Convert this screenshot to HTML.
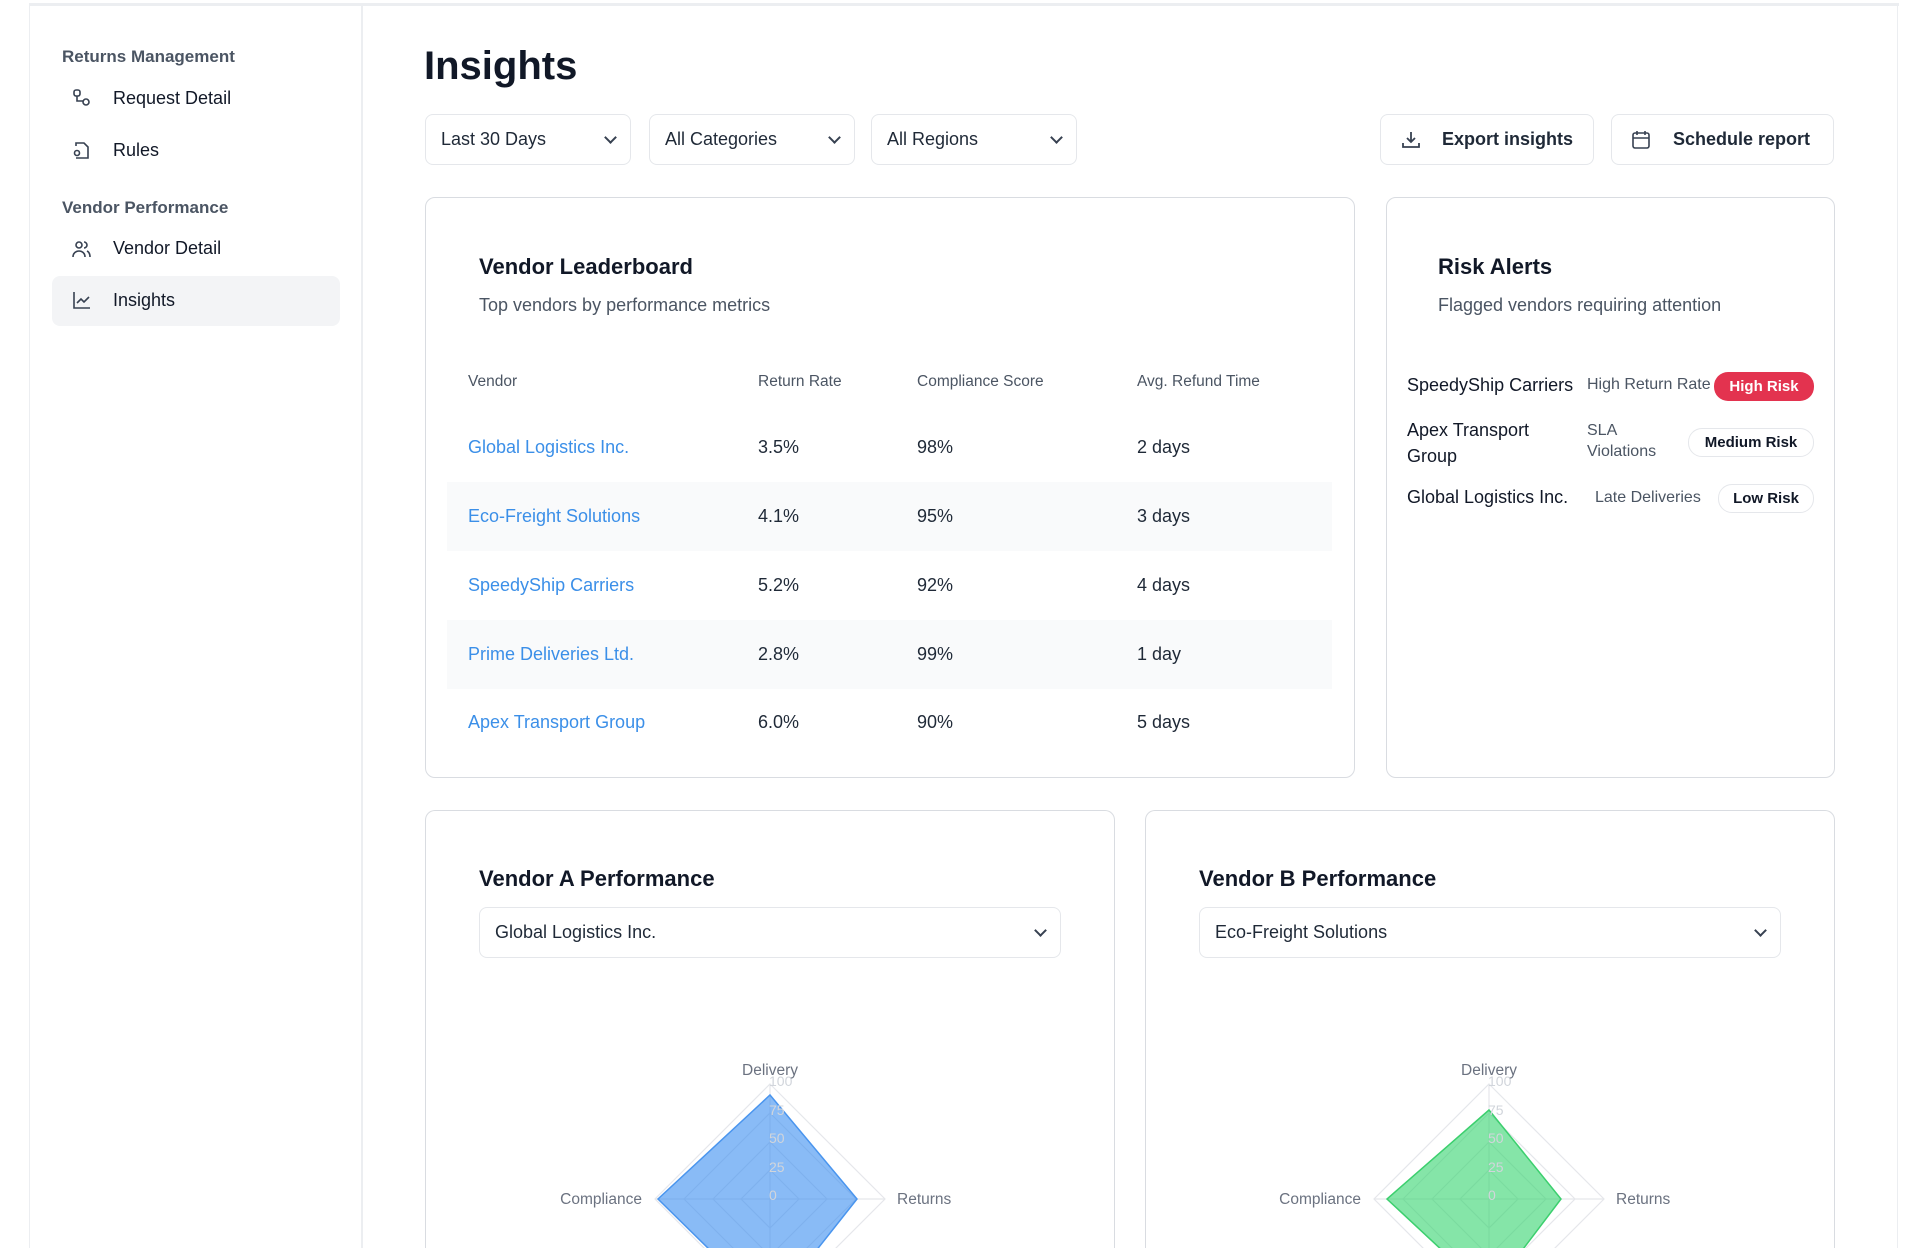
<!DOCTYPE html>
<html><head><meta charset="utf-8"><style>
*{box-sizing:border-box;margin:0;padding:0}
html,body{width:1920px;height:1248px;overflow:hidden;background:#fff}
body{font-family:"Liberation Sans",sans-serif;color:#111827}
#w{position:relative;width:1920px;height:1248px;overflow:hidden}
.a{position:absolute;white-space:nowrap}
.box{position:absolute;border:1px solid #e5e7eb;border-radius:8px;background:#fff}
.card{position:absolute;border:1.5px solid #d9dce1;border-radius:10px;background:#fff}
.sel{font-size:18px;color:#1f2937;display:flex;align-items:center;padding:0 15px;justify-content:space-between}
.chev{width:9px;height:9px;border-right:2px solid #374151;border-bottom:2px solid #374151;transform:rotate(45deg);margin-top:-5px}
.lk{color:#3b8fe8;font-size:18px}
.td{font-size:18px;color:#1f2937}
.th{font-size:15.5px;color:#4b5563}
.badge{position:absolute;border-radius:14px;font-size:15px;font-weight:bold;display:flex;align-items:center;justify-content:center}
</style></head><body><div id="w">
<div class="a" style="left:29px;top:3px;width:1870px;height:3px;background:#eceef1"></div>
<div class="a" style="left:29px;top:5px;width:1px;height:1243px;background:#eceef1"></div>
<div class="a" style="left:1897px;top:5px;width:1px;height:1243px;background:#eceef1"></div>
<div class="a" style="left:361px;top:5px;width:2px;height:1243px;background:#eceef1"></div>

<div class="a" style="left:62px;top:47px;font-size:17px;font-weight:bold;color:#4b5563">Returns Management</div>
<svg class="a" style="left:73px;top:89px" width="18" height="18" viewBox="0 0 18 18" fill="none" stroke="#374151" stroke-width="1.6"><rect x="1" y="1" width="6" height="6" rx="2"/><rect x="10" y="10" width="6" height="6" rx="3"/><path d="M4 7v5h6"/></svg>
<div class="a" style="left:113px;top:88px;font-size:18px">Request Detail</div>
<svg class="a" style="left:73px;top:140px" width="18" height="20" viewBox="0 0 18 20" fill="none" stroke="#374151" stroke-width="1.6"><path d="M3 6V3h8l4 4v11H3"/><circle cx="4" cy="13" r="2.5"/></svg>
<div class="a" style="left:113px;top:140px;font-size:18px">Rules</div>
<div class="a" style="left:62px;top:198px;font-size:17px;font-weight:bold;color:#4b5563">Vendor Performance</div>
<svg class="a" style="left:72px;top:239px" width="20" height="20" viewBox="0 0 20 20" fill="none" stroke="#374151" stroke-width="1.6"><circle cx="7" cy="6" r="3"/><path d="M1 18c0-4 3-6 6-6s6 2 6 6"/><path d="M12 3a3 3 0 0 1 0 6M15 12c2 1 3 3 3 6"/></svg>
<div class="a" style="left:113px;top:238px;font-size:18px">Vendor Detail</div>
<div class="a" style="left:52px;top:276px;width:288px;height:50px;background:#f3f4f6;border-radius:8px"></div>
<svg class="a" style="left:73px;top:291px" width="18" height="18" viewBox="0 0 18 18" fill="none" stroke="#374151" stroke-width="1.6"><path d="M1 1v16h16"/><path d="M4 12l4-4 3 3 5-5"/></svg>
<div class="a" style="left:113px;top:290px;font-size:18px">Insights</div>

<div class="a" style="left:424px;top:44px;font-size:40px;font-weight:bold">Insights</div>

<div class="box sel" style="left:425px;top:114px;width:206px;height:51px"><span>Last 30 Days</span><span class="chev"></span></div>
<div class="box sel" style="left:649px;top:114px;width:206px;height:51px"><span>All Categories</span><span class="chev"></span></div>
<div class="box sel" style="left:871px;top:114px;width:206px;height:51px"><span>All Regions</span><span class="chev"></span></div>
<div class="box" style="left:1380px;top:114px;width:214px;height:51px"></div>
<svg class="a" style="left:1401px;top:130px" width="20" height="20" viewBox="0 0 20 20" fill="none" stroke="#374151" stroke-width="1.8"><path d="M10 2v10M6 8l4 4 4-4M2 13v4h16v-4"/></svg>
<div class="a" style="left:1442px;top:129px;font-size:18px;font-weight:bold;color:#1f2937">Export insights</div>
<div class="box" style="left:1611px;top:114px;width:223px;height:51px"></div>
<svg class="a" style="left:1632px;top:130px" width="18" height="20" viewBox="0 0 18 20" fill="none" stroke="#374151" stroke-width="1.6"><rect x="1" y="3" width="16" height="15" rx="2"/><path d="M1 8h16M5 1v4M13 1v4"/></svg>
<div class="a" style="left:1673px;top:129px;font-size:18px;font-weight:bold;color:#1f2937">Schedule report</div>

<div class="card" style="left:425px;top:197px;width:930px;height:581px"></div>
<div class="a" style="left:479px;top:254px;font-size:22px;font-weight:bold">Vendor Leaderboard</div>
<div class="a" style="left:479px;top:295px;font-size:18px;color:#4b5563">Top vendors by performance metrics</div>
<div class="a th" style="left:468px;top:373px">Vendor</div>
<div class="a th" style="left:758px;top:373px">Return Rate</div>
<div class="a th" style="left:917px;top:373px">Compliance Score</div>
<div class="a th" style="left:1137px;top:373px">Avg. Refund Time</div>
<div class="a" style="left:447px;top:482px;width:885px;height:69px;background:#f9fafb"></div>
<div class="a" style="left:447px;top:620px;width:885px;height:69px;background:#f9fafb"></div>
<div class="a lk" style="left:468px;top:437px">Global Logistics Inc.</div><div class="a td" style="left:758px;top:437px">3.5%</div><div class="a td" style="left:917px;top:437px">98%</div><div class="a td" style="left:1137px;top:437px">2 days</div>
<div class="a lk" style="left:468px;top:506px">Eco-Freight Solutions</div><div class="a td" style="left:758px;top:506px">4.1%</div><div class="a td" style="left:917px;top:506px">95%</div><div class="a td" style="left:1137px;top:506px">3 days</div>
<div class="a lk" style="left:468px;top:575px">SpeedyShip Carriers</div><div class="a td" style="left:758px;top:575px">5.2%</div><div class="a td" style="left:917px;top:575px">92%</div><div class="a td" style="left:1137px;top:575px">4 days</div>
<div class="a lk" style="left:468px;top:644px">Prime Deliveries Ltd.</div><div class="a td" style="left:758px;top:644px">2.8%</div><div class="a td" style="left:917px;top:644px">99%</div><div class="a td" style="left:1137px;top:644px">1 day</div>
<div class="a lk" style="left:468px;top:712px">Apex Transport Group</div><div class="a td" style="left:758px;top:712px">6.0%</div><div class="a td" style="left:917px;top:712px">90%</div><div class="a td" style="left:1137px;top:712px">5 days</div>

<div class="card" style="left:1386px;top:197px;width:449px;height:581px"></div>
<div class="a" style="left:1438px;top:254px;font-size:22px;font-weight:bold">Risk Alerts</div>
<div class="a" style="left:1438px;top:295px;font-size:18px;color:#4b5563">Flagged vendors requiring attention</div>
<div class="a" style="left:1407px;top:375px;font-size:18px;color:#111827">SpeedyShip Carriers</div>
<div class="a" style="left:1587px;top:376px;font-size:16px;color:#4b5563">High Return Rate</div>
<div class="badge" style="left:1714px;top:372px;width:100px;height:29px;background:#e3334f;color:#fff">High Risk</div>
<div class="a" style="left:1407px;top:417px;font-size:18px;line-height:26px">Apex Transport<br>Group</div>
<div class="a" style="left:1587px;top:420px;font-size:16px;line-height:21px;color:#4b5563">SLA<br>Violations</div>
<div class="badge" style="left:1688px;top:428px;width:126px;height:29px;border:1px solid #e5e7eb;color:#111827">Medium Risk</div>
<div class="a" style="left:1407px;top:487px;font-size:18px">Global Logistics Inc.</div>
<div class="a" style="left:1595px;top:489px;font-size:16px;color:#4b5563">Late Deliveries</div>
<div class="badge" style="left:1718px;top:484px;width:96px;height:29px;border:1px solid #e5e7eb;color:#111827">Low Risk</div>

<div class="card" style="left:425px;top:810px;width:690px;height:438px;border-bottom:none;border-radius:10px 10px 0 0"></div>
<div class="a" style="left:479px;top:866px;font-size:22px;font-weight:bold">Vendor A Performance</div>
<div class="box sel" style="left:479px;top:907px;width:582px;height:51px"><span>Global Logistics Inc.</span><span class="chev"></span></div>
<div class="card" style="left:1145px;top:810px;width:690px;height:438px;border-bottom:none;border-radius:10px 10px 0 0"></div>
<div class="a" style="left:1199px;top:866px;font-size:22px;font-weight:bold">Vendor B Performance</div>
<div class="box sel" style="left:1199px;top:907px;width:582px;height:51px"><span>Eco-Freight Solutions</span><span class="chev"></span></div>

<svg class="a" style="left:0;top:0;overflow:hidden" width="1920" height="1248" viewBox="0 0 1920 1248">
<g transform="translate(770,1199)" font-family="Liberation Sans" >
 <g fill="none" stroke="#e5e7eb" stroke-width="1.2">
  <path d="M0-115L115 0 0 115-115 0Z"/><path d="M0-86L86 0 0 86-86 0Z"/><path d="M0-57L57 0 0 57-57 0Z"/><path d="M0-29L29 0 0 29-29 0Z"/>
  <path d="M0-115V115M-115 0H115"/>
 </g>
 <path d="M0-104L87 0 0 110-112 0Z" fill="rgba(59,142,240,0.6)" stroke="#4a95ee" stroke-width="1.5"/>
 <g fill="#d1d5db" font-size="14"><text x="-1" y="-113">100</text><text x="-1" y="-84">75</text><text x="-1" y="-56">50</text><text x="-1" y="-27">25</text><text x="-1" y="1">0</text></g>
 <g fill="#6b7280" font-size="15.5"><text x="0" y="-124" text-anchor="middle">Delivery</text><text x="-128" y="5" text-anchor="end">Compliance</text><text x="127" y="5">Returns</text></g>
</g>
<g transform="translate(1489,1199)" font-family="Liberation Sans">
 <g fill="none" stroke="#e5e7eb" stroke-width="1.2">
  <path d="M0-115L115 0 0 115-115 0Z"/><path d="M0-86L86 0 0 86-86 0Z"/><path d="M0-57L57 0 0 57-57 0Z"/><path d="M0-29L29 0 0 29-29 0Z"/>
  <path d="M0-115V115M-115 0H115"/>
 </g>
 <path d="M0-89L72 0 0 95-102 0Z" fill="rgba(52,211,110,0.6)" stroke="#3ccf6e" stroke-width="1.5"/>
 <g fill="#d1d5db" font-size="14"><text x="-1" y="-113">100</text><text x="-1" y="-84">75</text><text x="-1" y="-56">50</text><text x="-1" y="-27">25</text><text x="-1" y="1">0</text></g>
 <g fill="#6b7280" font-size="15.5"><text x="0" y="-124" text-anchor="middle">Delivery</text><text x="-128" y="5" text-anchor="end">Compliance</text><text x="127" y="5">Returns</text></g>
</g>
</svg>
</div></body></html>
